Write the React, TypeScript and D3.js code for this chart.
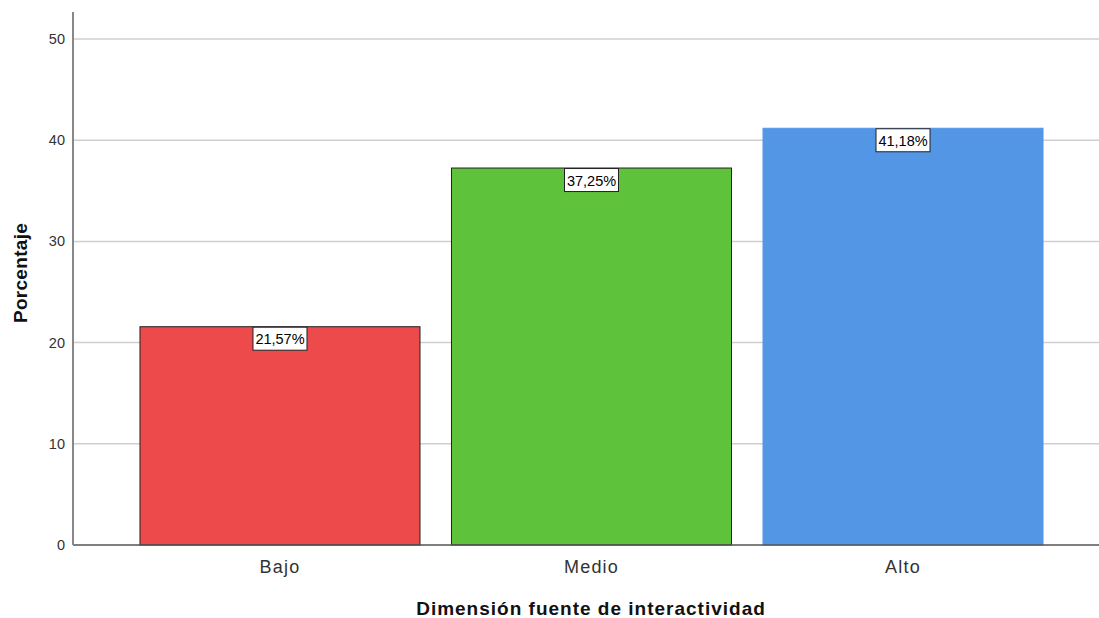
import React from "react";
import * as d3 from "d3";

const categories = ["Bajo", "Medio", "Alto"];
const values = [21.57, 37.25, 41.18];
const labels = ["21,57%", "37,25%", "41,18%"];
const colors = ["#EC4A4B", "#5EC23A", "#5496E6"];
const strokes = ["#222", "#222", "#5496E6"];
const yTicks = [0, 10, 20, 30, 40, 50];

const W = 1099;
const H = 618;
const x0 = 73;
const yBase = 545;

export default function App() {
  const y = d3.scaleLinear().domain([0, 50]).range([yBase, 39]);
  const x = d3
    .scaleBand<string>()
    .domain(categories)
    .range([x0, 1110])
    .paddingInner(0.1011)
    .paddingOuter(0.215);
  const font = "Arial, 'Liberation Sans', sans-serif";
  return (
    <svg
      width={W}
      height={H}
      style={{ position: "absolute", left: 0, top: 0, background: "#fff" }}
      fontFamily={font}
    >
      {yTicks.map((t) => (
        <g key={t}>
          {t > 0 && (
            <line x1={x0} x2={W} y1={y(t)} y2={y(t)} stroke="#cfcfcf" strokeWidth={1.5} />
          )}
          <text x={65} y={y(t)} dy="0.35em" textAnchor="end" fontSize={14.5} fill="#333">
            {t}
          </text>
        </g>
      ))}
      {categories.map((c, i) => (
        <rect
          key={c}
          x={x(c)!}
          y={y(values[i])}
          width={x.bandwidth()}
          height={yBase - y(values[i])}
          fill={colors[i]}
          stroke={strokes[i]}
          strokeWidth={1}
        />
      ))}
      <line x1={x0} x2={W} y1={yBase} y2={yBase} stroke="#555" strokeWidth={1.5} />
      <line x1={x0} x2={x0} y1={12} y2={yBase} stroke="#888" strokeWidth={2} />
      {categories.map((c, i) => {
        const cx = x(c)! + x.bandwidth() / 2;
        const top = y(values[i]);
        return (
          <g key={"l" + c}>
            <rect x={cx - 27} y={top + 0.5} width={54} height={23} fill="#fff" stroke="#222" strokeWidth={1} />
            <text x={cx} y={top + 12.5} dy="0.35em" textAnchor="middle" fontSize={14.5} fill="#000">
              {labels[i]}
            </text>
          </g>
        );
      })}
      {categories.map((c) => (
        <text
          key={"c" + c}
          x={x(c)! + x.bandwidth() / 2}
          y={567}
          dy="0.35em"
          textAnchor="middle"
          fontSize={18}
          letterSpacing={1.2}
          fill="#333"
        >
          {c}
        </text>
      ))}
      <text
        x={591}
        y={608}
        dy="0.35em"
        textAnchor="middle"
        fontSize={19}
        letterSpacing={1}
        fontWeight="bold"
        fill="#111"
      >
        Dimensión fuente de interactividad
      </text>
      <text
        transform={`translate(20,273) rotate(-90)`}
        dy="0.35em"
        textAnchor="middle"
        fontSize={19}
        letterSpacing={0.3}
        fontWeight="bold"
        fill="#111"
      >
        Porcentaje
      </text>
    </svg>
  );
}
